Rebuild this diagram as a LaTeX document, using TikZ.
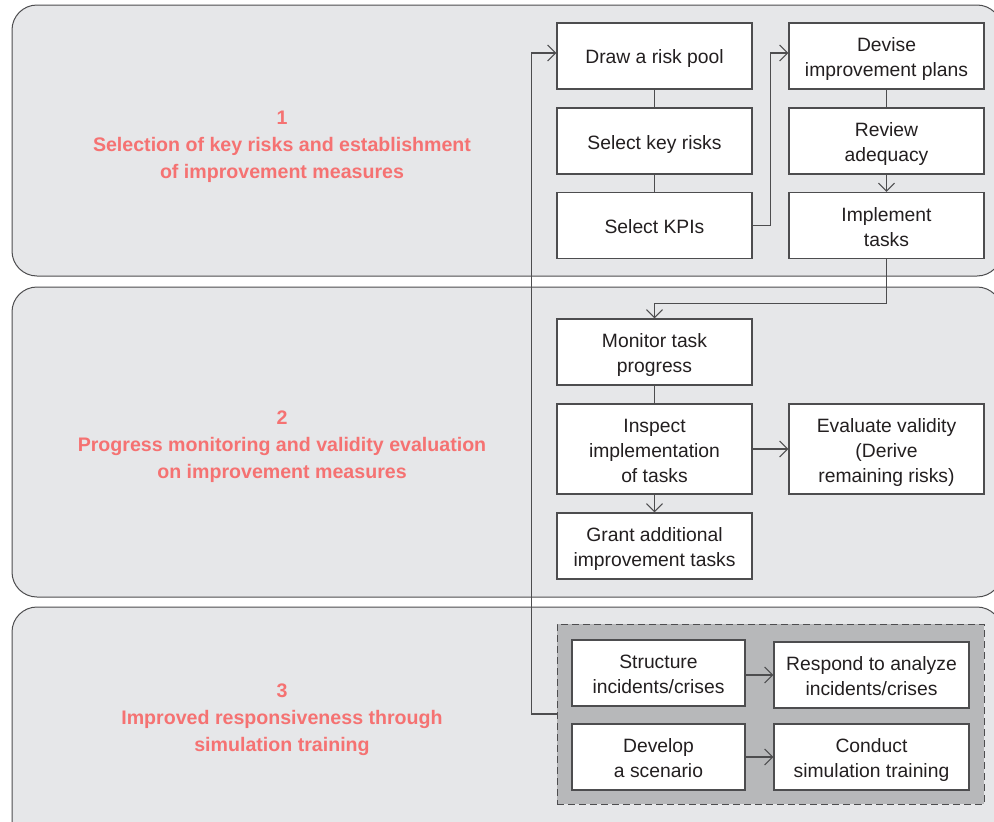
\documentclass[tikz,border=0pt]{standalone}
\usepackage{fontspec}
\setmainfont{Liberation Sans}
\usetikzlibrary{arrows.meta}
\definecolor{panelfill}{HTML}{E6E7E9}
\definecolor{edge}{HTML}{4D4D4F}
\definecolor{groupfill}{HTML}{B7B8BA}
\definecolor{titlered}{HTML}{F57272}
\definecolor{ink}{HTML}{231F20}
% line strut that keeps every box's text on the same optical centre
\newcommand{\bs}{\rule[-4pt]{0pt}{24pt}}
\begin{document}
\begin{tikzpicture}[x=1pt,y=-1pt,
  panel/.style={draw=edge,fill=panelfill,line width=1pt,rounded corners=25pt},
  stepbox/.style={draw=edge,fill=white,line width=1.2pt,minimum width=195pt,
    minimum height=66pt,inner sep=0pt,align=center,text=ink,
    font=\fontsize{19.3}{25}\selectfont},
  smallbox/.style={stepbox,minimum width=173pt},
  tallbox/.style={stepbox,minimum height=90pt},
  group/.style={draw=edge,fill=groupfill,dash pattern=on 7pt off 4pt,line width=1pt,
    minimum width=427pt,minimum height=180pt,inner sep=0pt},
  title/.style={text=titlered,align=center,
    font=\fontsize{19.6}{27}\selectfont\bfseries},
  link/.style={draw=edge,line width=1.1pt},
  flow/.style={link,-{Straight Barb[length=8pt,width=16pt,line width=1.1pt]}}
]
\useasboundingbox (0,0) rectangle (994,822);

% background panels, running past the right and bottom edges
\begin{scope}
  \clip (0,0) rectangle (994,822);
  \draw[panel] (12,5) rectangle (1002,276);
  \draw[panel] (12,287) rectangle (1002,597);
  \draw[panel] (12,607) rectangle (1002,860);
\end{scope}

% stage titles
\node[title] (t1) at (282,147) {1\\Selection of key risks and establishment\\of improvement measures};
\node[title] (t2) at (282,447) {2\\Progress monitoring and validity evaluation\\on improvement measures};
\node[title] (t3) at (282,720) {3\\Improved responsiveness through\\simulation training};

% stage 1
\node[stepbox] (pool) at (654.5,56) {\bs Draw a risk pool\bs};
\node[stepbox] (key) at (654.5,141) {\bs Select key risks\bs};
\node[stepbox] (kpi) at (654.5,225.5) {\bs Select KPIs\bs};
\node[stepbox] (plan) at (886.5,56) {\bs Devise\\improvement plans\bs};
\node[stepbox] (review) at (886.5,141) {\bs Review\\adequacy\bs};
\node[stepbox] (impl) at (886.5,225.5) {\bs Implement\\tasks\bs};

% stage 2
\node[stepbox] (monitor) at (654.5,352) {\bs Monitor task\\progress\bs};
\node[tallbox] (inspect) at (654.5,449) {\bs Inspect\\implementation\\of tasks\bs};
\node[tallbox] (evaluate) at (886.5,449) {\bs Evaluate validity\\(Derive\\remaining risks)\bs};
\node[stepbox] (grant) at (654.5,546) {\bs Grant additional\\improvement tasks\bs};

% stage 3
\node[group] (sim) at (770.5,714) {};
\node[smallbox] (structure) at (658.5,673) {\bs Structure\\incidents/crises\bs};
\node[stepbox] (respond) at (871.5,675) {\bs Respond to analyze\\incidents/crises\bs};
\node[smallbox] (develop) at (658.5,757) {\bs Develop\\a scenario\bs};
\node[stepbox] (conduct) at (871.5,757) {\bs Conduct\\simulation training\bs};

% connectors
\draw[link] (pool) -- (key);
\draw[link] (key) -- (kpi);
\draw[flow] (kpi.east) -- ++(18,0) |- ([yshift=3pt]plan.west);
\draw[link] (plan) -- (review);
\draw[flow] (review) -- (impl);
\draw[flow] (impl.south) -- ++(0,44) -| (monitor.north);
\draw[link] (monitor) -- (inspect);
\draw[flow] (inspect) -- (evaluate);
\draw[flow] (inspect) -- (grant);
\draw[flow] (structure.east |- respond.west) -- (respond.west);
\draw[flow] (develop) -- (conduct);
\draw[flow] (sim.west) -- ++(-25,0) |- ([yshift=3pt]pool.west);
\end{tikzpicture}
\end{document}
